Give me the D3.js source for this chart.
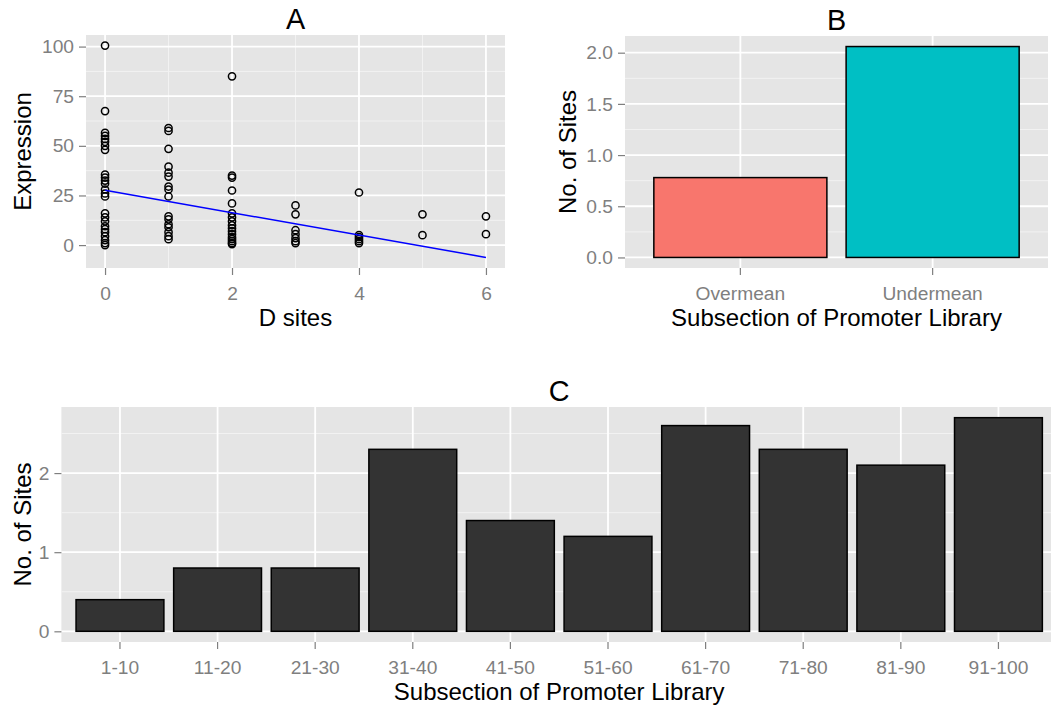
<!DOCTYPE html>
<html>
<head>
<meta charset="utf-8">
<script src="https://cdnjs.cloudflare.com/ajax/libs/d3/7.8.5/d3.min.js"></script>
<style>
body { margin: 0; background: #fff; }
text { font-family: "Liberation Sans", Arial, sans-serif; }
</style>
</head>
<body>
<script>
// panel A: expression vs number of D sites
var dSites = [0,0,0,0,0,0,0,0,0,0,0,0,0,0,0,0,0,0,0,0,0,0,0,0,0,
              1,1,1,1,1,1,1,1,1,1,1,1,1,1,1,1,
              2,2,2,2,2,2,2,2,2,2,2,2,2,2,2,2,2,
              3,3,3,3,3,3,3,
              4,4,4,4,4,4,
              5,5,
              6,6];
var expression = [100.5,67.5,56.5,55,53.5,52,50,48,35.5,34,32.5,31,28,26,24.5,16,14,12,9.5,8,6.5,4.5,2.5,1,0,
                  59,57.5,48.5,39.5,36.5,34.5,29.5,28,24.5,14.5,13,10.5,9,6.5,4.5,3,
                  85,35,34,27.5,21,16,14,12,10,8.5,7,5.5,4,3,2,1,0.5,
                  20,15.5,7.5,5.5,3.5,2,1,
                  26.5,5,4,3,2,1,
                  15.5,5,
                  14.5,5.5];
var fitX = [0, 6];
var fitY = [27.6, -6.2];
var aXTicks = [0, 2, 4, 6];
var aYTicks = [0, 25, 50, 75, 100];

// panel B
var groups = ["Overmean", "Undermean"];
var groupSites = [0.78, 2.06];
var groupColors = ["#F8766D", "#00BFC4"];
var bYTicks = [0, 0.5, 1, 1.5, 2];

// panel C
var ranges = ["1-10","11-20","21-30","31-40","41-50","51-60","61-70","71-80","81-90","91-100"];
var rangeSites = [0.4, 0.8, 0.8, 2.3, 1.4, 1.2, 2.6, 2.3, 2.1, 2.7];
var cYTicks = [0, 1, 2];

var w = 1051;
var h = 711;

var svg = d3.select('body')
            .append('svg')
            .attr('width', w)
            .attr('height', h);

var tickGrey = '#7f7f7f';

// expand a numeric range the way ggplot does (5% each side)
function expand(lo, hi) {
    var pad = (hi - lo) * 0.05;
    return [lo - pad, hi + pad];
}

function midpoints(ticks) {
    var m = [];
    for (var i = 0; i < ticks.length - 1; i++) m.push((ticks[i] + ticks[i+1]) / 2);
    return m;
}

function drawPanel(box, x, y, opts) {
    var g = svg.append('g');
    g.append('rect')
     .attr('x', box.left).attr('y', box.top)
     .attr('width', box.right - box.left).attr('height', box.bottom - box.top)
     .attr('fill', '#e5e5e5');

    var yDom = y.domain();
    var yMinor = midpoints(opts.yTicks);
    yMinor.push(opts.yTicks[opts.yTicks.length-1] + (opts.yTicks[1]-opts.yTicks[0])/2);
    yMinor.unshift(opts.yTicks[0] - (opts.yTicks[1]-opts.yTicks[0])/2);
    yMinor = yMinor.filter(function(v){ return v > yDom[0] && v < yDom[1]; });

    g.selectAll('.yminor').data(yMinor).enter().append('line')
     .attr('x1', box.left).attr('x2', box.right)
     .attr('y1', function(d){ return y(d); }).attr('y2', function(d){ return y(d); })
     .attr('stroke', '#f2f2f2').attr('stroke-width', 1);
    if (opts.xMinor) {
        g.selectAll('.xminor').data(opts.xMinor).enter().append('line')
         .attr('y1', box.top).attr('y2', box.bottom)
         .attr('x1', function(d){ return x(d); }).attr('x2', function(d){ return x(d); })
         .attr('stroke', '#f2f2f2').attr('stroke-width', 1);
    }
    g.selectAll('.ymajor').data(opts.yTicks).enter().append('line')
     .attr('x1', box.left).attr('x2', box.right)
     .attr('y1', function(d){ return y(d); }).attr('y2', function(d){ return y(d); })
     .attr('stroke', '#fff').attr('stroke-width', 1.8);
    g.selectAll('.xmajor').data(opts.xTicks).enter().append('line')
     .attr('y1', box.top).attr('y2', box.bottom)
     .attr('x1', function(d){ return opts.xPos(d); }).attr('x2', function(d){ return opts.xPos(d); })
     .attr('stroke', '#fff').attr('stroke-width', 1.8);

    var yAxis = d3.axisLeft(y).tickValues(opts.yTicks).tickSize(7).tickPadding(5)
                  .tickFormat(opts.yFormat);
    var ya = svg.append('g').attr('transform', 'translate(' + box.left + ',0)').call(yAxis);

    var xAxis = d3.axisBottom(x).tickSize(7).tickPadding(11);
    if (opts.xTicksNumeric) xAxis.tickValues(opts.xTicks).tickFormat(d3.format('d'));
    var xa = svg.append('g').attr('transform', 'translate(0,' + box.bottom + ')').call(xAxis);

    [ya, xa].forEach(function(a) {
        a.select('.domain').remove();
        a.selectAll('.tick line').attr('stroke', tickGrey).attr('stroke-width', 1.2);
        a.selectAll('.tick text').attr('fill', tickGrey)
         .style('font-size', '19.2px').style('font-family', '"Liberation Sans", Arial, sans-serif');
    });

    var cx = (box.left + Math.min(box.right, w)) / 2;
    if (opts.centerX) cx = opts.centerX;
    svg.append('text').attr('x', cx).attr('y', box.bottom + 58)
       .attr('text-anchor', 'middle').style('font-size', '24px').text(opts.xTitle);
    svg.append('text')
       .attr('transform', 'translate(' + opts.yTitleX + ',' + (box.top + box.bottom)/2 + ') rotate(-90)')
       .attr('text-anchor', 'middle').style('font-size', '24px').text(opts.yTitle);
    svg.append('text').attr('x', cx).attr('y', box.top - 6)
       .attr('text-anchor', 'middle').style('font-size', '28.8px').text(opts.title);
    return g;
}

// ---- A ----
var boxA = {left: 86, right: 505, top: 35, bottom: 268};
var xA = d3.scaleLinear().domain(expand(d3.min(dSites), d3.max(dSites))).range([boxA.left, boxA.right]);
var yA = d3.scaleLinear()
           .domain(expand(Math.min(d3.min(expression), d3.min(fitY)), d3.max(expression)))
           .range([boxA.bottom, boxA.top]);
var gA = drawPanel(boxA, xA, yA, {
    yTicks: aYTicks, xTicks: aXTicks, xMinor: [1, 3, 5], xPos: xA, xTicksNumeric: true,
    yFormat: d3.format('d'), xTitle: 'D sites', yTitle: 'Expression', yTitleX: 31, title: 'A',
    centerX: (boxA.left + boxA.right) / 2
});
gA.selectAll('circle')
  .data(dSites)
  .enter()
  .append('circle')
  .attr('cx', function(d){ return xA(d); })
  .attr('cy', function(d, i){ return yA(expression[i]); })
  .attr('r', 3.6)
  .attr('fill', 'none')
  .attr('stroke', '#000')
  .attr('stroke-width', 1.5);
gA.append('path')
  .datum(fitX.map(function(d, i){ return [d, fitY[i]]; }))
  .attr('d', d3.line().x(function(d){ return xA(d[0]); }).y(function(d){ return yA(d[1]); }))
  .attr('fill', 'none')
  .attr('stroke', '#0000ff')
  .attr('stroke-width', 1.5);

// ---- B ----
var boxB = {left: 625, right: 1048, top: 36, bottom: 268};
var xB = d3.scaleBand().domain(groups).range([boxB.left, boxB.right]).paddingInner(0.1).paddingOuter(0.15);
var yB = d3.scaleLinear().domain(expand(0, d3.max(groupSites))).range([boxB.bottom, boxB.top]);
var gB = drawPanel(boxB, xB, yB, {
    yTicks: bYTicks, xTicks: groups, xPos: function(d){ return xB(d) + xB.bandwidth()/2; },
    yFormat: d3.format('.1f'), xTitle: 'Subsection of Promoter Library', yTitle: 'No. of Sites',
    yTitleX: 576, title: 'B', centerX: (boxB.left + boxB.right) / 2
});
gB.selectAll('.bar')
  .data(groups)
  .enter()
  .append('rect')
  .attr('x', function(d){ return xB(d); })
  .attr('width', xB.bandwidth())
  .attr('y', function(d, i){ return yB(groupSites[i]); })
  .attr('height', function(d, i){ return yB(0) - yB(groupSites[i]); })
  .attr('fill', function(d, i){ return groupColors[i]; })
  .attr('stroke', '#000')
  .attr('stroke-width', 1.5);

// ---- C ----
var boxC = {left: 61.4, right: 1057, top: 407, bottom: 642};
var xC = d3.scaleBand().domain(ranges).range([boxC.left, boxC.right]).paddingInner(0.1).paddingOuter(0.15);
var yC = d3.scaleLinear().domain(expand(0, d3.max(rangeSites))).range([boxC.bottom, boxC.top]);
var gC = drawPanel(boxC, xC, yC, {
    yTicks: cYTicks, xTicks: ranges, xPos: function(d){ return xC(d) + xC.bandwidth()/2; },
    yFormat: d3.format('d'), xTitle: 'Subsection of Promoter Library', yTitle: 'No. of Sites',
    yTitleX: 31, title: 'C', centerX: (boxC.left + boxC.right) / 2
});
gC.selectAll('.bar')
  .data(ranges)
  .enter()
  .append('rect')
  .attr('x', function(d){ return xC(d); })
  .attr('width', xC.bandwidth())
  .attr('y', function(d, i){ return yC(rangeSites[i]); })
  .attr('height', function(d, i){ return yC(0) - yC(rangeSites[i]); })
  .attr('fill', '#333333')
  .attr('stroke', '#000')
  .attr('stroke-width', 1.5);
</script>
</body>
</html>
